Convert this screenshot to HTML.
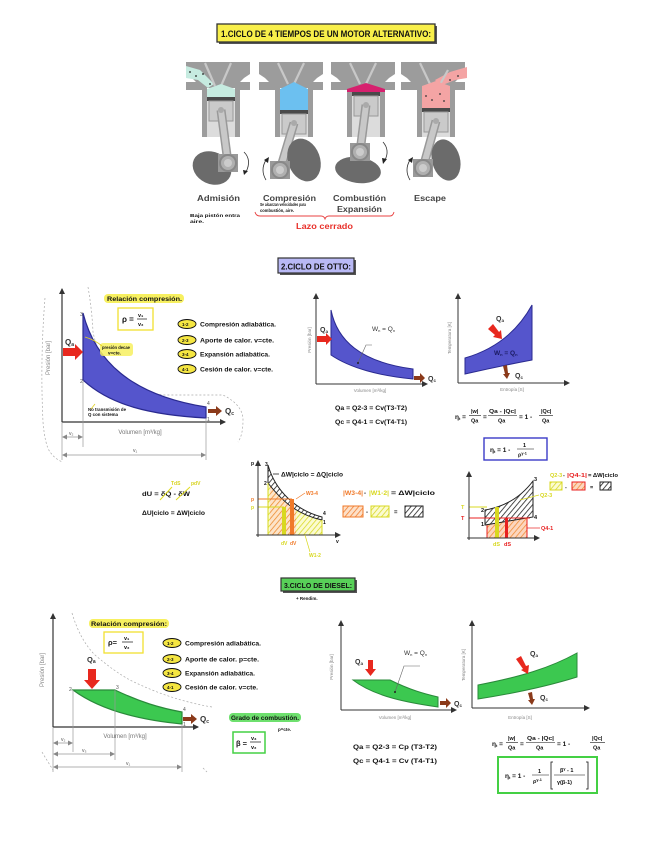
<!DOCTYPE html>
<html><head><meta charset="utf-8">
<style>html,body{margin:0;padding:0;background:#fff}svg{display:block}</style>
</head><body>
<svg width="656" height="848" viewBox="0 0 656 848" xmlns="http://www.w3.org/2000/svg" font-family="'Liberation Sans', sans-serif">
<defs>
  <pattern id="hk" width="4" height="4" patternUnits="userSpaceOnUse" patternTransform="rotate(40)"><rect width="4" height="4" fill="#fff"/><line x1="0" y1="0" x2="0" y2="4" stroke="#222" stroke-width="1.6"/></pattern>
  <pattern id="ho" width="4" height="4" patternUnits="userSpaceOnUse" patternTransform="rotate(40)"><rect width="4" height="4" fill="#fde0c8"/><line x1="0" y1="0" x2="0" y2="4" stroke="#f07a2a" stroke-width="1.5"/></pattern>
  <pattern id="hy" width="4" height="4" patternUnits="userSpaceOnUse" patternTransform="rotate(40)"><rect width="4" height="4" fill="#fbfbd0"/><line x1="0" y1="0" x2="0" y2="4" stroke="#d8d820" stroke-width="1.5"/></pattern>
  <pattern id="hr" width="4" height="4" patternUnits="userSpaceOnUse" patternTransform="rotate(40)"><rect width="4" height="4" fill="#fcd6c0"/><line x1="0" y1="0" x2="0" y2="4" stroke="#f08a30" stroke-width="1.5"/></pattern>
  <marker id="ah" markerWidth="6" markerHeight="6" refX="5" refY="3" orient="auto" markerUnits="userSpaceOnUse"><path d="M0,0 L6,3 L0,6 Z" fill="#333"/></marker>
  <marker id="ag" markerWidth="5" markerHeight="5" refX="4" refY="2.5" orient="auto" markerUnits="userSpaceOnUse"><path d="M0,0 L5,2.5 L0,5 Z" fill="#888"/></marker>
  <marker id="agr" markerWidth="5" markerHeight="5" refX="1" refY="2.5" orient="auto" markerUnits="userSpaceOnUse"><path d="M5,0 L0,2.5 L5,5 Z" fill="#888"/></marker>
</defs>
<rect width="656" height="848" fill="#fff"/>

<!-- ================= SECTION 1 ================= -->
<rect x="219" y="26" width="218" height="18" fill="#555"/>
<rect x="217" y="24" width="218" height="18" fill="#f8ef4a" stroke="#333" stroke-width="1.3"/>
<text x="221" y="37" font-size="9" font-weight="bold" fill="#111" textLength="210" lengthAdjust="spacingAndGlyphs">1.CICLO DE 4 TIEMPOS DE UN MOTOR ALTERNATIVO:</text>

<!-- Engine 1 (Admisión) -->
<g>
  <polygon points="186,62 250,62 250,74 244,78 240,82 250,82 250,90 240,90 240,88 202,88 202,90 186,90 186,82 196,82 192,78 186,74" fill="#9c9c9c"/>
  <polygon points="186,66 200,70 214,84 208,88 198,80 186,78" fill="#c6ebe0"/>
  <line x1="205" y1="63" x2="215" y2="86" stroke="#c8c8c8" stroke-width="2.2"/>
  <line x1="231" y1="63" x2="221" y2="86" stroke="#c8c8c8" stroke-width="2.2"/>
  <rect x="202" y="88" width="5" height="49" fill="#9c9c9c"/><rect x="235" y="88" width="5" height="49" fill="#9c9c9c"/>
  <rect x="207" y="101" width="28" height="36" fill="#dcdcdc"/>
  <polygon points="207,89 221,84 235,89 235,97 207,97" fill="#c6ebe0"/>
  <rect x="207" y="97" width="28" height="4" fill="#4a4a4a"/>
  <rect x="209" y="101" width="24" height="20" fill="#cacaca" stroke="#999"/>
  <line x1="221" y1="110" x2="228" y2="163" stroke="#999" stroke-width="9"/>
  <line x1="221" y1="110" x2="228" y2="163" stroke="#c8c8c8" stroke-width="6"/>
  <circle cx="221" cy="110" r="3" fill="#aaa"/>
  <ellipse cx="212" cy="168" rx="20" ry="16" transform="rotate(25 212 168)" fill="#6b6b6b"/>
  <rect x="218" y="154" width="20" height="18" fill="#999"/>
  <circle cx="228" cy="163" r="8" fill="#b0b0b0" stroke="#888" stroke-width="2"/>
  <circle cx="228" cy="163" r="4" fill="#ccc"/>
  <path d="M244,152 Q252,160 246,172" fill="none" stroke="#333" stroke-width="0.8"/>
  <polygon points="243,170 248,171 244,175" fill="#222"/>
</g>
<!-- Engine 2 (Compresión) -->
<g>
  <polygon points="259,62 323,62 323,74 317,78 313,82 323,82 323,90 313,90 313,88 275,88 275,90 259,90 259,82 269,82 265,78 259,74" fill="#9c9c9c"/>
  <line x1="278" y1="63" x2="288" y2="84" stroke="#c8c8c8" stroke-width="2.2"/>
  <line x1="304" y1="63" x2="294" y2="84" stroke="#c8c8c8" stroke-width="2.2"/>
  <rect x="275" y="88" width="5" height="49" fill="#9c9c9c"/><rect x="308" y="88" width="5" height="49" fill="#9c9c9c"/>
  <rect x="280" y="114" width="28" height="23" fill="#dcdcdc"/>
  <polygon points="280,89 294,82 308,89 308,110 280,110" fill="#6cc0f0"/>
  <rect x="280" y="110" width="28" height="4" fill="#4a4a4a"/>
  <rect x="282" y="114" width="24" height="20" fill="#cacaca" stroke="#999"/>
  <line x1="294" y1="123" x2="280" y2="170" stroke="#999" stroke-width="9"/>
  <line x1="294" y1="123" x2="280" y2="170" stroke="#c8c8c8" stroke-width="6"/>
  <circle cx="294" cy="123" r="3" fill="#aaa"/>
  <ellipse cx="304" cy="160" rx="16" ry="22" transform="rotate(-20 304 160)" fill="#6b6b6b"/>
  <rect x="270" y="161" width="20" height="18" fill="#999"/>
  <circle cx="280" cy="170" r="8" fill="#b0b0b0" stroke="#888" stroke-width="2"/>
  <circle cx="280" cy="170" r="4" fill="#ccc"/>
  <path d="M266,160 Q260,170 266,180" fill="none" stroke="#333" stroke-width="0.8"/>
  <polygon points="264,160 269,157 268,163" fill="#222"/>
</g>
<!-- Engine 3 (Combustión) -->
<g>
  <polygon points="331,62 395,62 395,74 389,78 385,82 395,82 395,90 385,90 385,88 347,88 347,90 331,90 331,82 341,82 337,78 331,74" fill="#9c9c9c"/>
  <line x1="350" y1="63" x2="360" y2="84" stroke="#c8c8c8" stroke-width="2.2"/>
  <line x1="376" y1="63" x2="366" y2="84" stroke="#c8c8c8" stroke-width="2.2"/>
  <rect x="347" y="88" width="5" height="49" fill="#9c9c9c"/><rect x="380" y="88" width="5" height="49" fill="#9c9c9c"/>
  <rect x="352" y="96" width="28" height="41" fill="#dcdcdc"/>
  <polygon points="347,89 366,83 385,89 385,92 347,92" fill="#d6206e"/>
  <rect x="352" y="92" width="28" height="4" fill="#4a4a4a"/>
  <rect x="354" y="96" width="24" height="20" fill="#cacaca" stroke="#999"/>
  <line x1="366" y1="105" x2="360" y2="152" stroke="#999" stroke-width="9"/>
  <line x1="366" y1="105" x2="360" y2="152" stroke="#c8c8c8" stroke-width="6"/>
  <circle cx="366" cy="105" r="3" fill="#aaa"/>
  <ellipse cx="358" cy="170" rx="23" ry="13" transform="rotate(8 358 170)" fill="#6b6b6b"/>
  <rect x="350" y="143" width="20" height="18" fill="#999"/>
  <circle cx="360" cy="152" r="8" fill="#b0b0b0" stroke="#888" stroke-width="2"/>
  <circle cx="360" cy="152" r="4" fill="#ccc"/>
  <path d="M383,142 Q390,150 385,160" fill="none" stroke="#333" stroke-width="0.8"/>
  <polygon points="382,158 387,159 383,164" fill="#222"/>
</g>
<!-- Engine 4 (Escape) -->
<g>
  <polygon points="401,62 465,62 465,74 459,78 455,82 465,82 465,90 455,90 455,88 417,88 417,90 401,90 401,82 411,82 407,78 401,74" fill="#9c9c9c"/>
  <polygon points="467,78 455,80 440,86 435,80 450,72 467,67" fill="#f4a4a4"/>
  <line x1="420" y1="63" x2="430" y2="84" stroke="#c8c8c8" stroke-width="2.2"/>
  <line x1="448" y1="70" x2="438" y2="88" stroke="#c8c8c8" stroke-width="2.2"/>
  <rect x="417" y="88" width="5" height="49" fill="#9c9c9c"/><rect x="450" y="88" width="5" height="49" fill="#9c9c9c"/>
  <rect x="422" y="112" width="28" height="25" fill="#dcdcdc"/>
  <polygon points="422,86 436,81 450,86 450,108 422,108" fill="#f4a4a4"/>
  <g fill="#333"><circle cx="426" cy="96" r="0.9"/><circle cx="432" cy="100" r="0.9"/><circle cx="440" cy="94" r="0.9"/><circle cx="444" cy="101" r="0.9"/><circle cx="450" cy="80" r="0.9"/><circle cx="458" cy="76" r="0.9"/></g>
  <rect x="422" y="108" width="28" height="4" fill="#4a4a4a"/>
  <rect x="424" y="112" width="24" height="20" fill="#cacaca" stroke="#999"/>
  <line x1="436" y1="121" x2="423" y2="168" stroke="#999" stroke-width="9"/>
  <line x1="436" y1="121" x2="423" y2="168" stroke="#c8c8c8" stroke-width="6"/>
  <circle cx="436" cy="121" r="3" fill="#aaa"/>
  <ellipse cx="446" cy="160" rx="14" ry="21" transform="rotate(-15 446 160)" fill="#6b6b6b"/>
  <rect x="413" y="159" width="20" height="18" fill="#999"/>
  <circle cx="423" cy="168" r="8" fill="#b0b0b0" stroke="#888" stroke-width="2"/>
  <circle cx="423" cy="168" r="4" fill="#ccc"/>
  <path d="M410,160 Q404,170 410,180" fill="none" stroke="#333" stroke-width="0.8"/>
  <polygon points="408,160 413,157 412,163" fill="#222"/>
</g>
<g fill="#222"><circle cx="190" cy="72" r="0.9"/><circle cx="196" cy="76" r="0.9"/><circle cx="203" cy="74" r="0.9"/><circle cx="210" cy="84" r="0.9"/></g>

<g font-size="8.5" fill="#444" font-weight="bold">
  <text x="197" y="201" textLength="43" lengthAdjust="spacingAndGlyphs">Admisión</text>
  <text x="263" y="201" textLength="53" lengthAdjust="spacingAndGlyphs">Compresión</text>
  <text x="333" y="201" textLength="53" lengthAdjust="spacingAndGlyphs">Combustión</text>
  <text x="337" y="212" textLength="45" lengthAdjust="spacingAndGlyphs">Expansión</text>
  <text x="414" y="201" textLength="32" lengthAdjust="spacingAndGlyphs">Escape</text>
</g>
<g font-size="4.5" fill="#111" font-weight="bold">
  <text x="190" y="217" textLength="50" lengthAdjust="spacingAndGlyphs">Baja pistón entra</text>
  <text x="190" y="223" textLength="14" lengthAdjust="spacingAndGlyphs">aire.</text>
  <text x="260" y="206" textLength="46" lengthAdjust="spacingAndGlyphs">Se alcanzan velocidades para</text>
  <text x="260" y="212" textLength="34" lengthAdjust="spacingAndGlyphs">combustión, aire.</text>
</g>
<path d="M255,212 Q256,216 260,216 L321,216 Q324,216 325,219 Q326,216 329,216 L390,216 Q393,216 394,212" fill="none" stroke="#e84040" stroke-width="0.9"/>
<text x="296" y="229" font-size="8.5" font-weight="bold" fill="#e8302a" textLength="57" lengthAdjust="spacingAndGlyphs">Lazo cerrado</text>

<!-- ================= SECTION 2 OTTO ================= -->
<rect x="280" y="260" width="76" height="15" fill="#555"/>
<rect x="278" y="258" width="76" height="15" fill="#b9b9f5" stroke="#333" stroke-width="1.2"/>
<text x="281" y="269.5" font-size="8" font-weight="bold" fill="#111" textLength="70" lengthAdjust="spacingAndGlyphs">2.CICLO DE OTTO:</text>

<!-- big Otto PV -->
<g fill="none" stroke="#aaa" stroke-width="0.7" stroke-dasharray="2,2">
  <path d="M45,298 Q40,360 43,422 Q45,445 50,452 Q56,460 63,462"/>
  <path d="M88,287 Q92,310 93,332 Q100,365 117,378 Q140,392 163,395 L223,395 Q243,405 243,420 Q243,435 238,442"/>
</g>
<line x1="62" y1="422" x2="62" y2="289" stroke="#333" stroke-width="1.2" marker-end="url(#ah)"/>
<line x1="62" y1="422" x2="225" y2="422" stroke="#333" stroke-width="1.2" marker-end="url(#ah)"/>
<path d="M83,313 C95,360 130,395 206,407 L206,418 C150,415 110,405 83,380 Z" fill="#5555cc" stroke="#2a2a90" stroke-width="1.2"/>
<g stroke="#999" stroke-width="0.7" fill="none">
  <line x1="83" y1="380" x2="83" y2="447"/><line x1="62" y1="422" x2="62" y2="460"/><line x1="206" y1="418" x2="206" y2="460"/>
  <line x1="63" y1="437" x2="82" y2="437" marker-end="url(#ag)" marker-start="url(#agr)"/>
  <line x1="63" y1="455" x2="205" y2="455" marker-end="url(#ag)" marker-start="url(#agr)"/>
</g>
<g font-size="5" fill="#555">
  <text x="80" y="316">3</text><text x="80" y="383">2</text><text x="207" y="405">4</text><text x="207" y="421">1</text>
  <text x="69" y="435">v₂</text><text x="133" y="452">v₁</text>
</g>
<text x="140" y="434" font-size="6" fill="#777" text-anchor="middle">Volumen [m³/kg]</text>
<text transform="translate(50,358) rotate(-90)" font-size="6" fill="#888" text-anchor="middle">Presión [bar]</text>
<polygon points="63,348 75,348 75,344 83,352 75,360 75,356 63,356" fill="#e8281e"/>
<text x="65" y="345" font-size="8" fill="#333" font-weight="bold">Q<tspan font-size="5" dy="1">a</tspan></text>
<polygon points="208,409 216,409 216,406 222,411 216,416 216,413 208,413" fill="#8b3a1a"/>
<text x="225" y="414" font-size="8" fill="#333" font-weight="bold">Q<tspan font-size="5" dy="1">c</tspan></text>
<rect x="104" y="294" width="80" height="9" rx="4" fill="#f7f060"/>
<text x="107" y="301" font-size="6.5" font-weight="bold" fill="#111" textLength="75" lengthAdjust="spacingAndGlyphs">Relación compresión.</text>
<rect x="118" y="308" width="35" height="22" fill="#fff" stroke="#f2e030" stroke-width="1.3"/>
<text x="122" y="322" font-size="8" font-weight="bold" fill="#111">ρ =</text>
<text x="138" y="317" font-size="5.5" font-weight="bold" fill="#111">v₁</text>
<line x1="137" y1="319" x2="147" y2="319" stroke="#111" stroke-width="0.7"/>
<text x="138" y="326" font-size="5.5" font-weight="bold" fill="#111">v₂</text>
<rect x="100" y="343" width="33" height="13" rx="3" fill="#f7f060" opacity="0.85"/>
<path d="M85,337 Q95,340 102,346" fill="none" stroke="#e0d020" stroke-width="0.9"/>
<text x="102" y="349" font-size="4.5" font-weight="bold" fill="#111" textLength="28" lengthAdjust="spacingAndGlyphs">presión decae</text>
<text x="108" y="354.5" font-size="4.5" font-weight="bold" fill="#111">v=cte.</text>
<path d="M95,404 L91,409" stroke="#e0d020" stroke-width="0.8"/>
<text x="88" y="411" font-size="4.2" font-weight="bold" fill="#111" textLength="38" lengthAdjust="spacingAndGlyphs">No transmisión de</text>
<text x="88" y="416" font-size="4.2" font-weight="bold" fill="#111" textLength="30" lengthAdjust="spacingAndGlyphs">Q con sistema</text>

<!-- Otto legend -->
<g font-size="6" font-weight="bold" fill="#111">
  <ellipse cx="187" cy="324" rx="9" ry="4.5" fill="#f5e642" stroke="#111" stroke-width="0.9"/><text x="182" y="326" font-size="4.5">1-2</text>
  <text x="200" y="326.5" textLength="76" lengthAdjust="spacingAndGlyphs">Compresión adiabática.</text>
  <ellipse cx="187" cy="340" rx="9" ry="4.5" fill="#f5e642" stroke="#111" stroke-width="0.9"/><text x="182" y="342" font-size="4.5">2-3</text>
  <text x="200" y="342.5" textLength="74" lengthAdjust="spacingAndGlyphs">Aporte de calor. v=cte.</text>
  <ellipse cx="187" cy="354" rx="9" ry="4.5" fill="#f5e642" stroke="#111" stroke-width="0.9"/><text x="182" y="356" font-size="4.5">3-4</text>
  <text x="200" y="356.5" textLength="70" lengthAdjust="spacingAndGlyphs">Expansión adiabática.</text>
  <ellipse cx="187" cy="369" rx="9" ry="4.5" fill="#f5e642" stroke="#111" stroke-width="0.9"/><text x="182" y="371" font-size="4.5">4-1</text>
  <text x="200" y="371.5" textLength="73" lengthAdjust="spacingAndGlyphs">Cesión de calor. v=cte.</text>
</g>

<!-- small Otto PV -->
<line x1="316" y1="384" x2="316" y2="294" stroke="#333" stroke-width="1" marker-end="url(#ah)"/>
<line x1="316" y1="384" x2="427" y2="384" stroke="#333" stroke-width="1" marker-end="url(#ah)"/>
<path d="M331,310 C337,340 360,362 413,369 L413,379 C380,376 350,368 331,355 Z" fill="#5555cc" stroke="#2a2a90" stroke-width="1"/>
<polygon points="317,336 326,336 326,333 332,339 326,345 326,342 317,342" fill="#e8281e"/>
<text x="320" y="332" font-size="7" font-weight="bold" fill="#333">Q<tspan font-size="4.5" dy="1">a</tspan></text>
<polygon points="414,376 420,376 420,373 425,378 420,383 420,380 414,380" fill="#8b3a1a"/>
<text x="428" y="381" font-size="7" font-weight="bold" fill="#333">Q<tspan font-size="4.5" dy="1">c</tspan></text>
<text x="372" y="331" font-size="6.5" fill="#333">W<tspan font-size="4" dy="1">n</tspan><tspan dy="-1"> = Q</tspan><tspan font-size="4" dy="1">n</tspan></text>
<polyline points="372,345 366,345 358,363" fill="none" stroke="#666" stroke-width="0.6"/>
<circle cx="358" cy="363" r="1" fill="#222"/>
<text transform="translate(311,340) rotate(-90)" font-size="4.5" fill="#888" text-anchor="middle">Presión [bar]</text>
<text x="370" y="392" font-size="4.5" fill="#888" text-anchor="middle">Volumen [m³/kg]</text>

<!-- Otto TS -->
<line x1="458" y1="383" x2="458" y2="294" stroke="#333" stroke-width="1" marker-end="url(#ah)"/>
<line x1="458" y1="383" x2="569" y2="383" stroke="#333" stroke-width="1" marker-end="url(#ah)"/>
<path d="M465,358 Q510,345 532,305 L532,360 Q500,366 465,374 Z" fill="#5555cc" stroke="#2a2a90" stroke-width="1"/>
<polygon points="488,329 493,324 499,332 501,330 502,339 493,337 495,335" fill="#e8281e"/>
<text x="496" y="321" font-size="7" font-weight="bold" fill="#333">Q<tspan font-size="4.5" dy="1">a</tspan></text>
<polygon points="503,366 507,365 508,373 510,373 507,379 503,374 505,374" fill="#8b3a1a"/>
<text x="515" y="378" font-size="7" font-weight="bold" fill="#333">Q<tspan font-size="4.5" dy="1">c</tspan></text>
<text x="494" y="355" font-size="6.5" font-weight="bold" fill="#1a1a60">W<tspan font-size="4" dy="1">n</tspan><tspan dy="-1"> = Q</tspan><tspan font-size="4" dy="1">n</tspan></text>
<text transform="translate(451,338) rotate(-90)" font-size="4.5" fill="#888" text-anchor="middle">Temperatura [K]</text>
<text x="512" y="391" font-size="4.5" fill="#888" text-anchor="middle">Entropía [S]</text>

<!-- Otto equations -->
<g font-size="6.5" font-weight="bold" fill="#111">
  <text x="335" y="410" textLength="72" lengthAdjust="spacingAndGlyphs">Qa = Q2-3 = Cv(T3-T2)</text>
  <text x="335" y="424" textLength="72" lengthAdjust="spacingAndGlyphs">Qc = Q4-1 = Cv(T4-T1)</text>
  <text x="455" y="419">η<tspan font-size="4" dy="1">t</tspan><tspan dy="-1"> =</tspan></text>
  <text x="471" y="413" font-size="5.5">|w|</text><line x1="469" y1="415.5" x2="481" y2="415.5" stroke="#111" stroke-width="0.6"/><text x="471" y="422.5" font-size="5.5">Qa</text>
  <text x="483" y="419">=</text>
  <text x="489" y="413" font-size="5.5" textLength="27" lengthAdjust="spacingAndGlyphs">Qa - |Qc|</text><line x1="488" y1="415.5" x2="517" y2="415.5" stroke="#111" stroke-width="0.6"/><text x="498" y="422.5" font-size="5.5">Qa</text>
  <text x="519" y="419">= 1 -</text>
  <text x="541" y="413" font-size="5.5">|Qc|</text><line x1="539" y1="415.5" x2="553" y2="415.5" stroke="#111" stroke-width="0.6"/><text x="542" y="422.5" font-size="5.5">Qa</text>
</g>
<rect x="484" y="438" width="63" height="22" fill="#fff" stroke="#3b3bc8" stroke-width="1.4"/>
<g font-weight="bold" fill="#111">
  <text x="490" y="452" font-size="6.5">η<tspan font-size="4" dy="1">t</tspan><tspan dy="-1"> = 1 -</tspan></text>
  <text x="523" y="447" font-size="5.5">1</text><line x1="517" y1="449" x2="534" y2="449" stroke="#111" stroke-width="0.6"/>
  <text x="518" y="456.5" font-size="5.5">ρ<tspan font-size="3.8" dy="-2">γ-1</tspan></text>
</g>

<!-- dU eqs -->
<g font-size="6.5" font-weight="bold" fill="#111">
  <text x="142" y="496" textLength="48" lengthAdjust="spacingAndGlyphs">dU = δQ - δW</text>
  <text x="142" y="515" textLength="63" lengthAdjust="spacingAndGlyphs">ΔU|ciclo = ΔW|ciclo</text>
</g>
<line x1="160" y1="500" x2="172" y2="487" stroke="#e0dc20" stroke-width="1"/>
<line x1="176" y1="500" x2="190" y2="487" stroke="#e0dc20" stroke-width="1"/>
<text x="171" y="485" font-size="5" font-weight="bold" fill="#d8d420">TdS</text>
<text x="191" y="485" font-size="5" font-weight="bold" fill="#d8d420">pdV</text>

<!-- hatched PV -->
<path d="M268,483 C285,505 300,515 322,520 L322,535 L268,535 Z" fill="url(#hy)"/>
<path d="M270,470 C277,492 290,505 296,508 L296,535 L270,535 Z" fill="url(#ho)" opacity="0.85"/>
<path d="M268,465 C275,490 295,510 322,517 L322,520 C300,515 285,505 268,483 Z" fill="url(#hk)" stroke="#222" stroke-width="1"/>
<line x1="258" y1="499" x2="292" y2="499" stroke="#f07a2a" stroke-width="1"/>
<line x1="258" y1="507" x2="284" y2="507" stroke="#d8d820" stroke-width="1"/>
<rect x="290" y="499" width="4" height="36" fill="#f07a2a"/>
<rect x="282" y="507" width="4" height="28" fill="#d8d820"/>
<line x1="268" y1="483" x2="268" y2="535" stroke="#d8d820" stroke-width="1"/>
<line x1="322" y1="520" x2="322" y2="535" stroke="#d8d820" stroke-width="1"/>
<line x1="258" y1="537" x2="258" y2="461" stroke="#333" stroke-width="1" marker-end="url(#ah)"/>
<line x1="256" y1="535" x2="340" y2="535" stroke="#333" stroke-width="1" marker-end="url(#ah)"/>
<g font-size="5" font-weight="bold">
  <text x="251" y="465" fill="#111">p</text><text x="336" y="543" fill="#111">v</text>
  <text x="265" y="466" fill="#111">3</text><text x="264" y="485" fill="#111">2</text><text x="323" y="515" fill="#111">4</text><text x="323" y="524" fill="#111">1</text>
  <text x="251" y="501" fill="#f07a2a">p</text><text x="251" y="509" fill="#d8d820">p</text>
  <text x="281" y="545" fill="#d8d820">dV</text><text x="290" y="545" fill="#f07a2a">dV</text>
  <text x="306" y="495" fill="#f07a2a">W3-4</text>
  <text x="309" y="557" fill="#d8d820">W1-2</text>
</g>
<line x1="296" y1="499" x2="305" y2="493" stroke="#f07a2a" stroke-width="0.7"/>
<line x1="305" y1="535" x2="310" y2="552" stroke="#d8d820" stroke-width="0.7"/>
<line x1="273" y1="474" x2="279" y2="474" stroke="#222" stroke-width="0.8"/>
<text x="281" y="476.5" font-size="6" font-weight="bold" fill="#111" textLength="62" lengthAdjust="spacingAndGlyphs">ΔW|ciclo = ΔQ|ciclo</text>

<g font-size="6" font-weight="bold">
  <text x="343" y="495" fill="#f07a2a" textLength="20" lengthAdjust="spacingAndGlyphs">|W3-4|</text>
  <text x="364" y="495" fill="#111">-</text>
  <text x="369" y="495" fill="#d8d820" textLength="20" lengthAdjust="spacingAndGlyphs">|W1-2|</text>
  <text x="391" y="495" fill="#111" textLength="44" lengthAdjust="spacingAndGlyphs">= ΔW|ciclo</text>
  <rect x="343" y="506" width="20" height="11" fill="url(#ho)" stroke="#f07a2a"/>
  <text x="366" y="514" fill="#111">-</text>
  <rect x="371" y="506" width="18" height="11" fill="url(#hy)" stroke="#d8d820"/>
  <text x="394" y="514" fill="#111">=</text>
  <rect x="405" y="506" width="18" height="11" fill="url(#hk)" stroke="#222"/>
</g>

<!-- hatched TS -->
<rect x="487" y="518" width="40" height="20" fill="url(#hr)" stroke="#e82020" stroke-width="1"/>
<path d="M485,510 Q515,505 533,481 L533,517 L485,525 Z" fill="url(#hk)" stroke="#222" stroke-width="1"/>
<line x1="469" y1="507" x2="487" y2="507" stroke="#d8d820" stroke-width="1"/>
<line x1="469" y1="518" x2="530" y2="518" stroke="#e82020" stroke-width="1"/>
<rect x="495" y="507" width="4" height="31" fill="#d8d820"/>
<rect x="505" y="518" width="3" height="20" fill="#e82020"/>
<line x1="469" y1="540" x2="469" y2="472" stroke="#333" stroke-width="1" marker-end="url(#ah)"/>
<line x1="467" y1="538" x2="539" y2="538" stroke="#333" stroke-width="1" marker-end="url(#ah)"/>
<g font-size="5.5" font-weight="bold">
  <text x="461" y="509" fill="#d8d820">T</text><text x="461" y="520" fill="#e82020">T</text>
  <text x="534" y="481" fill="#111">3</text><text x="481" y="512" fill="#111">2</text><text x="481" y="526" fill="#111">1</text><text x="534" y="519" fill="#111">4</text>
  <text x="493" y="546" fill="#d8d820">dS</text><text x="504" y="546" fill="#e82020">dS</text>
  <text x="540" y="497" fill="#d8d820">Q2-3</text><text x="541" y="530" fill="#e82020">Q4-1</text>
</g>
<line x1="520" y1="500" x2="539" y2="495" stroke="#d8d820" stroke-width="0.7"/>
<line x1="527" y1="528" x2="540" y2="528" stroke="#e82020" stroke-width="0.7"/>
<g font-size="5.5" font-weight="bold">
  <text x="550" y="477" fill="#d8d820">Q2-3</text>
  <text x="563" y="477" fill="#111">-</text>
  <text x="567" y="477" fill="#e82020" textLength="20" lengthAdjust="spacingAndGlyphs">|Q4-1|</text>
  <text x="588" y="477" fill="#111" textLength="30" lengthAdjust="spacingAndGlyphs">= ΔW|ciclo</text>
  <rect x="550" y="482" width="12" height="8" fill="url(#hy)" stroke="#d8d820"/>
  <text x="565" y="489" fill="#111">-</text>
  <rect x="572" y="482" width="13" height="8" fill="url(#hr)" stroke="#e82020"/>
  <text x="590" y="489" fill="#111">=</text>
  <rect x="600" y="482" width="11" height="8" fill="url(#hk)" stroke="#222"/>
</g>

<!-- ================= SECTION 3 DIESEL ================= -->
<rect x="283" y="580" width="74" height="13" fill="#555"/>
<rect x="281" y="578" width="74" height="13" fill="#58d058" stroke="#333" stroke-width="1.2"/>
<text x="284" y="588" font-size="7.5" font-weight="bold" fill="#111" textLength="68" lengthAdjust="spacingAndGlyphs">3.CICLO DE DIESEL:</text>
<text x="296" y="600" font-size="4.5" font-weight="bold" fill="#111">+ Rendim.</text>

<!-- big Diesel PV -->
<g fill="none" stroke="#aaa" stroke-width="0.7" stroke-dasharray="2,2">
  <path d="M72,613 Q80,640 95,655 Q115,672 130,680 Q170,700 212,707"/>
  <path d="M42,752 Q48,762 53,770"/>
  <path d="M203,768 L207,772"/>
</g>
<line x1="53" y1="727" x2="53" y2="614" stroke="#333" stroke-width="1.2" marker-end="url(#ah)"/>
<line x1="53" y1="727" x2="198" y2="727" stroke="#333" stroke-width="1.2" marker-end="url(#ah)"/>
<path d="M73,690 L115,690 C140,702 160,708 182,712 L182,724 C140,720 100,710 73,690 Z" fill="#3cc850" stroke="#2a8a3a" stroke-width="1.2"/>
<g stroke="#999" stroke-width="0.7" fill="none">
  <line x1="73" y1="690" x2="73" y2="752"/><line x1="115" y1="690" x2="115" y2="760"/><line x1="182" y1="724" x2="182" y2="772"/><line x1="53" y1="727" x2="53" y2="772"/>
  <line x1="54" y1="743" x2="72" y2="743" marker-end="url(#ag)" marker-start="url(#agr)"/>
  <line x1="54" y1="754" x2="114" y2="754" marker-end="url(#ag)" marker-start="url(#agr)"/>
  <line x1="54" y1="767" x2="181" y2="767" marker-end="url(#ag)" marker-start="url(#agr)"/>
</g>
<g font-size="5" fill="#555">
  <text x="69" y="691">2</text><text x="116" y="689">3</text><text x="183" y="711">4</text><text x="183" y="726">1</text>
  <text x="61" y="741">v₂</text><text x="82" y="752">v₃</text><text x="126" y="765">v₁</text>
</g>
<text x="125" y="738" font-size="6" fill="#777" text-anchor="middle">Volumen [m³/kg]</text>
<text transform="translate(44,670) rotate(-90)" font-size="6" fill="#888" text-anchor="middle">Presión [bar]</text>
<polygon points="88,669 96,669 96,680 100,680 92,689 84,680 88,680" fill="#e8281e"/>
<text x="87" y="662" font-size="7.5" font-weight="bold" fill="#333">Q<tspan font-size="5" dy="1">a</tspan></text>
<polygon points="183,717 191,717 191,714 197,719 191,724 191,721 183,721" fill="#8b3a1a"/>
<text x="200" y="722" font-size="8" font-weight="bold" fill="#333">Q<tspan font-size="5" dy="1">c</tspan></text>
<rect x="89" y="619" width="80" height="9" rx="4" fill="#f7f060"/>
<text x="91" y="626" font-size="6.5" font-weight="bold" fill="#111" textLength="76" lengthAdjust="spacingAndGlyphs">Relación compresión:</text>
<rect x="104" y="632" width="39" height="21" fill="#fff" stroke="#f2e030" stroke-width="1.3"/>
<text x="108" y="645" font-size="7.5" font-weight="bold" fill="#111">ρ=</text>
<text x="124" y="640" font-size="5.5" font-weight="bold" fill="#111">v₁</text>
<line x1="122" y1="642" x2="133" y2="642" stroke="#111" stroke-width="0.7"/>
<text x="124" y="649" font-size="5.5" font-weight="bold" fill="#111">v₂</text>

<g font-size="6" font-weight="bold" fill="#111">
  <ellipse cx="172" cy="643" rx="9" ry="4.5" fill="#f5e642" stroke="#111" stroke-width="0.9"/><text x="167" y="645" font-size="4.5">1-2</text>
  <text x="185" y="645.5" textLength="76" lengthAdjust="spacingAndGlyphs">Compresión adiabática.</text>
  <ellipse cx="172" cy="659" rx="9" ry="4.5" fill="#f5e642" stroke="#111" stroke-width="0.9"/><text x="167" y="661" font-size="4.5">2-3</text>
  <text x="185" y="661.5" textLength="74" lengthAdjust="spacingAndGlyphs">Aporte de calor. p=cte.</text>
  <ellipse cx="172" cy="673" rx="9" ry="4.5" fill="#f5e642" stroke="#111" stroke-width="0.9"/><text x="167" y="675" font-size="4.5">3-4</text>
  <text x="185" y="675.5" textLength="70" lengthAdjust="spacingAndGlyphs">Expansión adiabática.</text>
  <ellipse cx="172" cy="687" rx="9" ry="4.5" fill="#f5e642" stroke="#111" stroke-width="0.9"/><text x="167" y="689" font-size="4.5">4-1</text>
  <text x="185" y="689.5" textLength="73" lengthAdjust="spacingAndGlyphs">Cesión de calor. v=cte.</text>
</g>
<rect x="229" y="713" width="72" height="9" rx="4" fill="#6ee06e"/>
<text x="231" y="720" font-size="6.5" font-weight="bold" fill="#111" textLength="68" lengthAdjust="spacingAndGlyphs">Grado de combustión.</text>
<text x="278" y="731" font-size="4.5" font-weight="bold" fill="#111">p=cte.</text>
<rect x="233" y="732" width="32" height="21" fill="#fff" stroke="#44d044" stroke-width="1.5"/>
<text x="236" y="746" font-size="7.5" font-weight="bold" fill="#111">β =</text>
<text x="251" y="740" font-size="5.5" font-weight="bold" fill="#111">v₃</text>
<line x1="250" y1="742" x2="261" y2="742" stroke="#111" stroke-width="0.7"/>
<text x="251" y="749" font-size="5.5" font-weight="bold" fill="#111">v₂</text>

<!-- small Diesel PV -->
<line x1="341" y1="710" x2="341" y2="621" stroke="#333" stroke-width="1" marker-end="url(#ah)"/>
<line x1="341" y1="710" x2="456" y2="710" stroke="#333" stroke-width="1" marker-end="url(#ah)"/>
<path d="M353,680 L390,680 C410,690 425,694 438,697 L438,707 C410,703 375,697 353,680 Z" fill="#3cc850" stroke="#2a8a3a" stroke-width="1"/>
<polygon points="368,660 373,660 373,669 376,669 370.5,676 365,669 368,669" fill="#e8281e"/>
<text x="355" y="664" font-size="7" font-weight="bold" fill="#333">Q<tspan font-size="4.5" dy="1">a</tspan></text>
<polygon points="440,701 446,701 446,698 451,703 446,708 446,705 440,705" fill="#8b3a1a"/>
<text x="454" y="706" font-size="7" font-weight="bold" fill="#333">Q<tspan font-size="4.5" dy="1">c</tspan></text>
<text x="404" y="655" font-size="6.5" fill="#333">W<tspan font-size="4" dy="1">n</tspan><tspan dy="-1"> = Q</tspan><tspan font-size="4" dy="1">n</tspan></text>
<polyline points="420,666 404,666 395,692" fill="none" stroke="#666" stroke-width="0.6"/>
<circle cx="395" cy="692" r="1" fill="#222"/>
<text transform="translate(333,667) rotate(-90)" font-size="4.5" fill="#888" text-anchor="middle">Presión [bar]</text>
<text x="395" y="719" font-size="4.5" fill="#888" text-anchor="middle">Volumen [m³/kg]</text>

<!-- Diesel TS -->
<line x1="472" y1="708" x2="472" y2="621" stroke="#333" stroke-width="1" marker-end="url(#ah)"/>
<line x1="472" y1="708" x2="589" y2="708" stroke="#333" stroke-width="1" marker-end="url(#ah)"/>
<path d="M478,685 C520,677 550,668 577,653 L577,677 C545,687 510,694 478,699 Z" fill="#3cc850" stroke="#2a8a3a" stroke-width="1"/>
<polygon points="516,659 521,656 526,666 529,665 528,674 521,670 523,669" fill="#e8281e"/>
<text x="530" y="656" font-size="7" font-weight="bold" fill="#333">Q<tspan font-size="4.5" dy="1">a</tspan></text>
<polygon points="528,693 532,692 533,699 535,699 532,705 528,700 530,700" fill="#8b3a1a"/>
<text x="540" y="700" font-size="7" font-weight="bold" fill="#333">Q<tspan font-size="4.5" dy="1">c</tspan></text>
<text transform="translate(465,665) rotate(-90)" font-size="4.5" fill="#888" text-anchor="middle">Temperatura [K]</text>
<text x="520" y="719" font-size="4.5" fill="#888" text-anchor="middle">Entropía [S]</text>

<!-- Diesel equations -->
<g font-size="6.5" font-weight="bold" fill="#111">
  <text x="353" y="749" textLength="84" lengthAdjust="spacingAndGlyphs">Qa = Q2-3 = Cp (T3-T2)</text>
  <text x="353" y="763" textLength="84" lengthAdjust="spacingAndGlyphs">Qc = Q4-1 = Cv (T4-T1)</text>
  <text x="492" y="746">η<tspan font-size="4" dy="1">t</tspan><tspan dy="-1"> =</tspan></text>
  <text x="508" y="740" font-size="5.5">|w|</text><line x1="506" y1="742.5" x2="518" y2="742.5" stroke="#111" stroke-width="0.6"/><text x="508" y="749.5" font-size="5.5">Qa</text>
  <text x="520" y="746">=</text>
  <text x="527" y="740" font-size="5.5" textLength="27" lengthAdjust="spacingAndGlyphs">Qa - |Qc|</text><line x1="526" y1="742.5" x2="555" y2="742.5" stroke="#111" stroke-width="0.6"/><text x="536" y="749.5" font-size="5.5">Qa</text>
  <text x="557" y="746">= 1 -</text>
  <text x="592" y="740" font-size="5.5">|Qc|</text><line x1="590" y1="742.5" x2="605" y2="742.5" stroke="#111" stroke-width="0.6"/><text x="593" y="749.5" font-size="5.5">Qa</text>
</g>
<rect x="498" y="757" width="99" height="36" fill="#fff" stroke="#44d044" stroke-width="2"/>
<g font-weight="bold" fill="#111">
  <text x="505" y="778" font-size="6.5">η<tspan font-size="4" dy="1">t</tspan><tspan dy="-1"> = 1 -</tspan></text>
  <text x="538" y="773" font-size="5.5">1</text><line x1="532" y1="775" x2="549" y2="775" stroke="#111" stroke-width="0.6"/>
  <text x="533" y="783" font-size="5.5">ρ<tspan font-size="3.8" dy="-2">γ-1</tspan></text>
  <path d="M553,762 L551,762 L551,789 L553,789" fill="none" stroke="#111" stroke-width="0.8"/>
  <path d="M586,762 L588,762 L588,789 L586,789" fill="none" stroke="#111" stroke-width="0.8"/>
  <text x="560" y="772" font-size="5.5">β<tspan font-size="3.8" dy="-2">γ</tspan><tspan dy="2"> - 1</tspan></text>
  <line x1="554" y1="775" x2="585" y2="775" stroke="#111" stroke-width="0.6"/>
  <text x="557" y="784" font-size="5.5">γ(β-1)</text>
</g>
</svg>
</body></html>
